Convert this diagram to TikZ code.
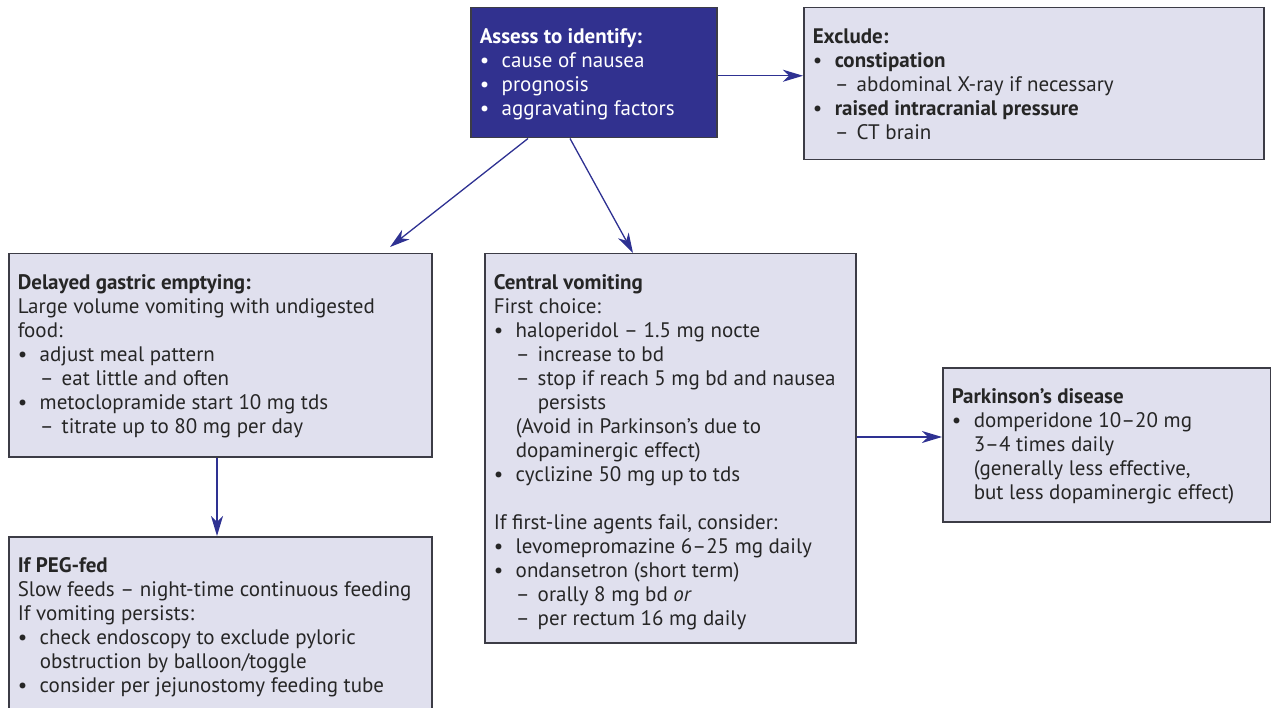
\documentclass[tikz,border=0pt]{standalone}
\usepackage{fontspec}
\setmainfont{PT Sans}
\usetikzlibrary{arrows.meta}

\definecolor{boxfill}{HTML}{E0E0EE}
\definecolor{boxline}{HTML}{3C3C46}
\definecolor{headblue}{HTML}{31318F}
\definecolor{linkblue}{HTML}{2E3192}

\newcommand{\bl}{\makebox[22pt][l]{\textbullet}}
\newcommand{\ds}{\hspace*{22pt}\makebox[22pt][l]{--}}
\newcommand{\ind}{\hspace*{22pt}}
\newcommand{\boxtxt}[3]{\parbox[t][#2][t]{#1}{\strut#3}}

\begin{document}
\begin{tikzpicture}
  [x=1pt,y=-1pt,
   every node/.style={anchor=north west,draw=boxline,fill=boxfill,line width=1.5pt,
     inner xsep=9pt,inner ysep=19pt,font=\fontsize{21}{24}\selectfont,text=black!85},
   link/.style={draw=linkblue,line width=1.3pt,-{Stealth[length=20pt,width=12pt,inset=6pt]}}]
  \useasboundingbox (0,0) rectangle (1271,708);

  \node[fill=headblue,text=white] (assess) at (470,7)
    {\boxtxt{228pt}{92pt}{\textbf{Assess to identify:}\\
      \bl cause of nausea\\
      \bl prognosis\\
      \bl aggravating factors}};
  \node (exclude) at (803,7)
    {\boxtxt{442pt}{114pt}{\textbf{Exclude:}\\
      \bl\textbf{constipation}\\
      \ds abdominal X-ray if necessary\\
      \bl\textbf{raised intracranial pressure}\\
      \ds CT brain}};
  \node (delayed) at (8,253)
    {\boxtxt{405pt}{165pt}{\textbf{Delayed gastric emptying:}\\
      Large volume vomiting with undigested\\
      food:\\
      \bl adjust meal pattern\\
      \ds eat little and often\\
      \bl metoclopramide start 10 mg tds\\
      \ds titrate up to 80 mg per day}};
  \node (central) at (484,253)
    {\boxtxt{353pt}{351pt}{\textbf{Central vomiting}\\
      First choice:\\
      \bl haloperidol -- 1.5 mg nocte\\
      \ds increase to bd\\
      \ds stop if reach 5 mg bd and nausea\\
      \ind\ind persists\\
      \ind(Avoid in Parkinson's due to\\
      \ind dopaminergic effect)\\
      \bl cyclizine 50 mg up to tds\\[24pt]
      If first-line agents fail, consider:\\
      \bl levomepromazine 6--25 mg daily\\
      \bl ondansetron (short term)\\
      \ds orally 8 mg bd \textit{or}\\
      \ds per rectum 16 mg daily}};
  \node (parkinson) at (942,367)
    {\boxtxt{310pt}{116pt}{\textbf{Parkinson's disease}\\
      \bl domperidone 10--20 mg\\
      \ind 3--4 times daily\\
      \ind (generally less effective,\\
      \ind but less dopaminergic effect)}};
  \node (peg) at (8,536)
    {\boxtxt{405pt}{150pt}{\textbf{If PEG-fed}\\
      Slow feeds -- night-time continuous feeding\\
      If vomiting persists:\\
      \bl check endoscopy to exclude pyloric\\
      \ind obstruction by balloon/toggle\\
      \bl consider per jejunostomy feeding tube}};

  \coordinate (a0) at ([yshift=-3pt]assess.east);
  \coordinate (b0) at (a0 -| exclude.west);
  \coordinate (a1) at ([xshift=58pt]assess.south west);
  \coordinate (b1) at ([xshift=382pt,yshift=6pt]delayed.north west);
  \coordinate (a2) at ([xshift=100pt]assess.south west);
  \coordinate (b2) at ([xshift=149pt]central.north west);
  \coordinate (a3) at ([xshift=209pt]delayed.south west);
  \coordinate (b3) at ([xshift=209pt]peg.north west);
  \coordinate (a4) at ([yshift=-184pt]central.north east);
  \coordinate (b4) at (a4 -| parkinson.west);

  \foreach \from/\to in {a0/b0, a1/b1, a2/b2, a3/b3, a4/b4}
    \draw [link] (\from) -- (\to);

\end{tikzpicture}
\end{document}
